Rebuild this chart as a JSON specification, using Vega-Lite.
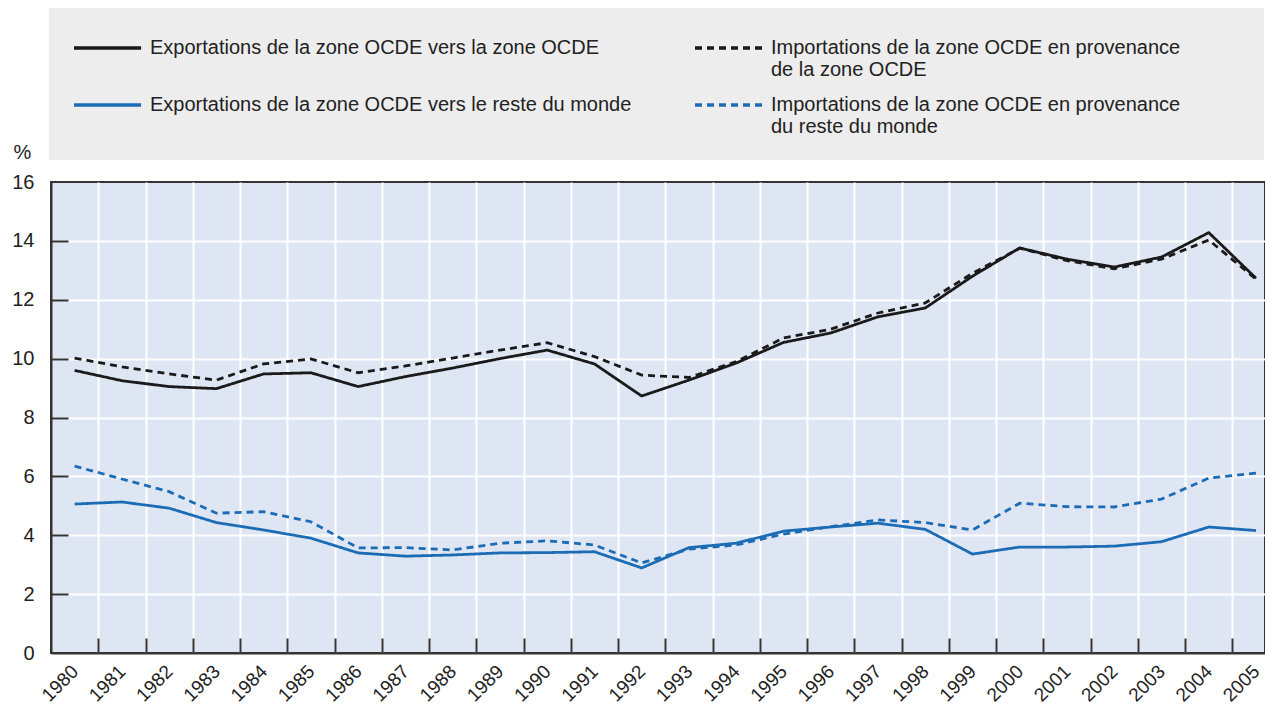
{
  "$schema": "https://vega.github.io/schema/vega-lite/v6.json",
  "width": 1214,
  "height": 471,
  "autosize": {"type": "none"},
  "padding": {"left": 51, "top": 182, "right": 0, "bottom": 55},
  "background": "white",
  "config": {
    "font": "Liberation Sans, Arial, sans-serif",
    "view": {"fill": "#DFE6F3", "stroke": "#333333", "strokeWidth": 2}
  },
  "data": {"values": [
    {"year": 1980, "serie": "Exportations de la zone OCDE vers la zone OCDE", "value": 9.6},
    {"year": 1981, "serie": "Exportations de la zone OCDE vers la zone OCDE", "value": 9.25},
    {"year": 1982, "serie": "Exportations de la zone OCDE vers la zone OCDE", "value": 9.05},
    {"year": 1983, "serie": "Exportations de la zone OCDE vers la zone OCDE", "value": 8.98},
    {"year": 1984, "serie": "Exportations de la zone OCDE vers la zone OCDE", "value": 9.48},
    {"year": 1985, "serie": "Exportations de la zone OCDE vers la zone OCDE", "value": 9.52},
    {"year": 1986, "serie": "Exportations de la zone OCDE vers la zone OCDE", "value": 9.05},
    {"year": 1987, "serie": "Exportations de la zone OCDE vers la zone OCDE", "value": 9.39},
    {"year": 1988, "serie": "Exportations de la zone OCDE vers la zone OCDE", "value": 9.68},
    {"year": 1989, "serie": "Exportations de la zone OCDE vers la zone OCDE", "value": 10.0},
    {"year": 1990, "serie": "Exportations de la zone OCDE vers la zone OCDE", "value": 10.29},
    {"year": 1991, "serie": "Exportations de la zone OCDE vers la zone OCDE", "value": 9.82},
    {"year": 1992, "serie": "Exportations de la zone OCDE vers la zone OCDE", "value": 8.73},
    {"year": 1993, "serie": "Exportations de la zone OCDE vers la zone OCDE", "value": 9.27},
    {"year": 1994, "serie": "Exportations de la zone OCDE vers la zone OCDE", "value": 9.85},
    {"year": 1995, "serie": "Exportations de la zone OCDE vers la zone OCDE", "value": 10.55},
    {"year": 1996, "serie": "Exportations de la zone OCDE vers la zone OCDE", "value": 10.87},
    {"year": 1997, "serie": "Exportations de la zone OCDE vers la zone OCDE", "value": 11.42},
    {"year": 1998, "serie": "Exportations de la zone OCDE vers la zone OCDE", "value": 11.72},
    {"year": 1999, "serie": "Exportations de la zone OCDE vers la zone OCDE", "value": 12.8},
    {"year": 2000, "serie": "Exportations de la zone OCDE vers la zone OCDE", "value": 13.76},
    {"year": 2001, "serie": "Exportations de la zone OCDE vers la zone OCDE", "value": 13.38},
    {"year": 2002, "serie": "Exportations de la zone OCDE vers la zone OCDE", "value": 13.11},
    {"year": 2003, "serie": "Exportations de la zone OCDE vers la zone OCDE", "value": 13.45},
    {"year": 2004, "serie": "Exportations de la zone OCDE vers la zone OCDE", "value": 14.28},
    {"year": 2005, "serie": "Exportations de la zone OCDE vers la zone OCDE", "value": 12.73},
    {"year": 1980, "serie": "Importations de la zone OCDE en provenance de la zone OCDE", "value": 10.02},
    {"year": 1981, "serie": "Importations de la zone OCDE en provenance de la zone OCDE", "value": 9.72},
    {"year": 1982, "serie": "Importations de la zone OCDE en provenance de la zone OCDE", "value": 9.48},
    {"year": 1983, "serie": "Importations de la zone OCDE en provenance de la zone OCDE", "value": 9.27},
    {"year": 1984, "serie": "Importations de la zone OCDE en provenance de la zone OCDE", "value": 9.82},
    {"year": 1985, "serie": "Importations de la zone OCDE en provenance de la zone OCDE", "value": 9.99},
    {"year": 1986, "serie": "Importations de la zone OCDE en provenance de la zone OCDE", "value": 9.52},
    {"year": 1987, "serie": "Importations de la zone OCDE en provenance de la zone OCDE", "value": 9.75},
    {"year": 1988, "serie": "Importations de la zone OCDE en provenance de la zone OCDE", "value": 10.02},
    {"year": 1989, "serie": "Importations de la zone OCDE en provenance de la zone OCDE", "value": 10.29},
    {"year": 1990, "serie": "Importations de la zone OCDE en provenance de la zone OCDE", "value": 10.54},
    {"year": 1991, "serie": "Importations de la zone OCDE en provenance de la zone OCDE", "value": 10.07},
    {"year": 1992, "serie": "Importations de la zone OCDE en provenance de la zone OCDE", "value": 9.44},
    {"year": 1993, "serie": "Importations de la zone OCDE en provenance de la zone OCDE", "value": 9.36},
    {"year": 1994, "serie": "Importations de la zone OCDE en provenance de la zone OCDE", "value": 9.9},
    {"year": 1995, "serie": "Importations de la zone OCDE en provenance de la zone OCDE", "value": 10.7},
    {"year": 1996, "serie": "Importations de la zone OCDE en provenance de la zone OCDE", "value": 11.0},
    {"year": 1997, "serie": "Importations de la zone OCDE en provenance de la zone OCDE", "value": 11.55},
    {"year": 1998, "serie": "Importations de la zone OCDE en provenance de la zone OCDE", "value": 11.89},
    {"year": 1999, "serie": "Importations de la zone OCDE en provenance de la zone OCDE", "value": 12.9},
    {"year": 2000, "serie": "Importations de la zone OCDE en provenance de la zone OCDE", "value": 13.75},
    {"year": 2001, "serie": "Importations de la zone OCDE en provenance de la zone OCDE", "value": 13.33},
    {"year": 2002, "serie": "Importations de la zone OCDE en provenance de la zone OCDE", "value": 13.05},
    {"year": 2003, "serie": "Importations de la zone OCDE en provenance de la zone OCDE", "value": 13.38},
    {"year": 2004, "serie": "Importations de la zone OCDE en provenance de la zone OCDE", "value": 14.03},
    {"year": 2005, "serie": "Importations de la zone OCDE en provenance de la zone OCDE", "value": 12.7},
    {"year": 1980, "serie": "Exportations de la zone OCDE vers le reste du monde", "value": 5.06},
    {"year": 1981, "serie": "Exportations de la zone OCDE vers le reste du monde", "value": 5.13},
    {"year": 1982, "serie": "Exportations de la zone OCDE vers le reste du monde", "value": 4.92},
    {"year": 1983, "serie": "Exportations de la zone OCDE vers le reste du monde", "value": 4.43},
    {"year": 1984, "serie": "Exportations de la zone OCDE vers le reste du monde", "value": 4.18},
    {"year": 1985, "serie": "Exportations de la zone OCDE vers le reste du monde", "value": 3.9},
    {"year": 1986, "serie": "Exportations de la zone OCDE vers le reste du monde", "value": 3.4},
    {"year": 1987, "serie": "Exportations de la zone OCDE vers le reste du monde", "value": 3.29},
    {"year": 1988, "serie": "Exportations de la zone OCDE vers le reste du monde", "value": 3.33},
    {"year": 1989, "serie": "Exportations de la zone OCDE vers le reste du monde", "value": 3.4},
    {"year": 1990, "serie": "Exportations de la zone OCDE vers le reste du monde", "value": 3.41},
    {"year": 1991, "serie": "Exportations de la zone OCDE vers le reste du monde", "value": 3.44},
    {"year": 1992, "serie": "Exportations de la zone OCDE vers le reste du monde", "value": 2.89},
    {"year": 1993, "serie": "Exportations de la zone OCDE vers le reste du monde", "value": 3.58},
    {"year": 1994, "serie": "Exportations de la zone OCDE vers le reste du monde", "value": 3.73},
    {"year": 1995, "serie": "Exportations de la zone OCDE vers le reste du monde", "value": 4.14},
    {"year": 1996, "serie": "Exportations de la zone OCDE vers le reste du monde", "value": 4.28},
    {"year": 1997, "serie": "Exportations de la zone OCDE vers le reste du monde", "value": 4.41},
    {"year": 1998, "serie": "Exportations de la zone OCDE vers le reste du monde", "value": 4.2},
    {"year": 1999, "serie": "Exportations de la zone OCDE vers le reste du monde", "value": 3.36},
    {"year": 2000, "serie": "Exportations de la zone OCDE vers le reste du monde", "value": 3.6},
    {"year": 2001, "serie": "Exportations de la zone OCDE vers le reste du monde", "value": 3.6},
    {"year": 2002, "serie": "Exportations de la zone OCDE vers le reste du monde", "value": 3.63},
    {"year": 2003, "serie": "Exportations de la zone OCDE vers le reste du monde", "value": 3.78},
    {"year": 2004, "serie": "Exportations de la zone OCDE vers le reste du monde", "value": 4.28},
    {"year": 2005, "serie": "Exportations de la zone OCDE vers le reste du monde", "value": 4.16},
    {"year": 1980, "serie": "Importations de la zone OCDE en provenance du reste du monde", "value": 6.35},
    {"year": 1981, "serie": "Importations de la zone OCDE en provenance du reste du monde", "value": 5.91},
    {"year": 1982, "serie": "Importations de la zone OCDE en provenance du reste du monde", "value": 5.48},
    {"year": 1983, "serie": "Importations de la zone OCDE en provenance du reste du monde", "value": 4.75},
    {"year": 1984, "serie": "Importations de la zone OCDE en provenance du reste du monde", "value": 4.8},
    {"year": 1985, "serie": "Importations de la zone OCDE en provenance du reste du monde", "value": 4.46},
    {"year": 1986, "serie": "Importations de la zone OCDE en provenance du reste du monde", "value": 3.57},
    {"year": 1987, "serie": "Importations de la zone OCDE en provenance du reste du monde", "value": 3.58},
    {"year": 1988, "serie": "Importations de la zone OCDE en provenance du reste du monde", "value": 3.5},
    {"year": 1989, "serie": "Importations de la zone OCDE en provenance du reste du monde", "value": 3.73},
    {"year": 1990, "serie": "Importations de la zone OCDE en provenance du reste du monde", "value": 3.81},
    {"year": 1991, "serie": "Importations de la zone OCDE en provenance du reste du monde", "value": 3.67},
    {"year": 1992, "serie": "Importations de la zone OCDE en provenance du reste du monde", "value": 3.06},
    {"year": 1993, "serie": "Importations de la zone OCDE en provenance du reste du monde", "value": 3.53},
    {"year": 1994, "serie": "Importations de la zone OCDE en provenance du reste du monde", "value": 3.67},
    {"year": 1995, "serie": "Importations de la zone OCDE en provenance du reste du monde", "value": 4.04},
    {"year": 1996, "serie": "Importations de la zone OCDE en provenance du reste du monde", "value": 4.29},
    {"year": 1997, "serie": "Importations de la zone OCDE en provenance du reste du monde", "value": 4.52},
    {"year": 1998, "serie": "Importations de la zone OCDE en provenance du reste du monde", "value": 4.43},
    {"year": 1999, "serie": "Importations de la zone OCDE en provenance du reste du monde", "value": 4.18},
    {"year": 2000, "serie": "Importations de la zone OCDE en provenance du reste du monde", "value": 5.09},
    {"year": 2001, "serie": "Importations de la zone OCDE en provenance du reste du monde", "value": 4.97},
    {"year": 2002, "serie": "Importations de la zone OCDE en provenance du reste du monde", "value": 4.96},
    {"year": 2003, "serie": "Importations de la zone OCDE en provenance du reste du monde", "value": 5.23},
    {"year": 2004, "serie": "Importations de la zone OCDE en provenance du reste du monde", "value": 5.94},
    {"year": 2005, "serie": "Importations de la zone OCDE en provenance du reste du monde", "value": 6.11}
  ]},
  "resolve": {"axis": {"x": "independent"}},
  "layer": [
    {
      "mark": {"type": "line", "opacity": 0},
      "encoding": {
        "x": {
          "field": "year", "type": "quantitative",
          "scale": {"domain": [1979.5, 2005.19], "nice": false, "zero": false},
          "axis": {
            "orient": "bottom",
            "values": [1980.5, 1981.5, 1982.5, 1983.5, 1984.5, 1985.5, 1986.5, 1987.5, 1988.5, 1989.5, 1990.5, 1991.5, 1992.5, 1993.5, 1994.5, 1995.5, 1996.5, 1997.5, 1998.5, 1999.5, 2000.5, 2001.5, 2002.5, 2003.5, 2004.5],
            "title": null, "labels": false, "domain": false,
            "grid": true, "gridColor": "white", "gridWidth": 2, "gridOpacity": 1,
            "ticks": true, "tickSize": -15, "tickColor": "#333333", "tickWidth": 2
          }
        },
        "y": {"field": "value", "type": "quantitative", "scale": {"domain": [0, 16], "nice": false}},
        "detail": {"field": "serie"}
      }
    },
    {
      "mark": {"type": "line", "strokeWidth": 2.8},
      "encoding": {
        "x": {
          "field": "year", "type": "quantitative",
          "axis": {
            "orient": "bottom",
            "values": [1980, 1981, 1982, 1983, 1984, 1985, 1986, 1987, 1988, 1989, 1990, 1991, 1992, 1993, 1994, 1995, 1996, 1997, 1998, 1999, 2000, 2001, 2002, 2003, 2004, 2005],
            "format": "d", "title": null, "grid": false, "ticks": false,
            "domain": true, "domainColor": "#333333", "domainWidth": 2,
            "labelAngle": -45, "labelAlign": "right", "labelBaseline": "middle",
            "labelFontSize": 19, "labelColor": "#222222", "labelPadding": 15,
            "labelFlush": false, "labelOverlap": false, "labelBound": false
          }
        },
        "y": {
          "field": "value", "type": "quantitative",
          "axis": {
            "values": [0, 2, 4, 6, 8, 10, 12, 14, 16],
            "title": "%", "titleAngle": 0, "titleX": -29, "titleY": -30, "titleAlign": "center", "titleBaseline": "middle",
            "titleFontSize": 20, "titleFontWeight": "normal", "titleColor": "#222222",
            "grid": true, "gridColor": "white", "gridWidth": 2,
            "gridOpacity": {"condition": {"test": "datum.value == 0 || datum.value == 16", "value": 0}, "value": 1},
            "ticks": true, "tickSize": -17, "tickColor": "#333333", "tickWidth": 2,
            "tickOpacity": {"condition": {"test": "datum.value == 0 || datum.value == 16", "value": 0}, "value": 1},
            "domain": true, "domainColor": "#333333", "domainWidth": 2,
            "labelFontSize": 20, "labelColor": "#222222", "labelPadding": 34
          }
        },
        "color": {
          "field": "serie", "type": "nominal",
          "scale": {
            "domain": ["Exportations de la zone OCDE vers la zone OCDE", "Exportations de la zone OCDE vers le reste du monde", "Importations de la zone OCDE en provenance de la zone OCDE", "Importations de la zone OCDE en provenance du reste du monde"],
            "range": ["#1a1a1a", "#1c6cb5", "#1a1a1a", "#1c6cb5"]
          },
          "legend": {
            "title": null, "orient": "none", "legendX": -2, "legendY": -174,
            "columns": 2, "gridAlign": "each", "columnPadding": 56, "rowPadding": 8,
            "padding": 23, "fillColor": "#EDEDED",
            "symbolType": "M-1,0H3.47", "symbolSize": 900, "symbolStrokeWidth": 3.5,
            "labelFontSize": 20, "labelColor": "#222222", "labelOffset": 44, "labelLimit": 900,
            "labelExpr": "indexof(datum.label, 'provenance') >= 0 ? split(replace(datum.label, 'provenance ', 'provenance\u2800\u2800\u2800\u2800|'), '|') : [datum.label, '']"
          }
        },
        "strokeDash": {
          "field": "serie", "type": "nominal",
          "scale": {
            "domain": ["Exportations de la zone OCDE vers la zone OCDE", "Exportations de la zone OCDE vers le reste du monde", "Importations de la zone OCDE en provenance de la zone OCDE", "Importations de la zone OCDE en provenance du reste du monde"],
            "range": [[1, 0], [1, 0], [7, 5], [7, 5]]
          },
          "legend": {
            "title": null, "orient": "none", "legendX": -2, "legendY": -174,
            "columns": 2, "gridAlign": "each", "columnPadding": 56, "rowPadding": 8,
            "padding": 23, "fillColor": "#EDEDED",
            "symbolType": "M-1,0H3.47", "symbolSize": 900, "symbolStrokeWidth": 3.5,
            "labelFontSize": 20, "labelColor": "#222222", "labelOffset": 44, "labelLimit": 900,
            "labelExpr": "indexof(datum.label, 'provenance') >= 0 ? split(replace(datum.label, 'provenance ', 'provenance\u2800\u2800\u2800\u2800|'), '|') : [datum.label, '']"
          }
        }
      }
    }
  ]
}
